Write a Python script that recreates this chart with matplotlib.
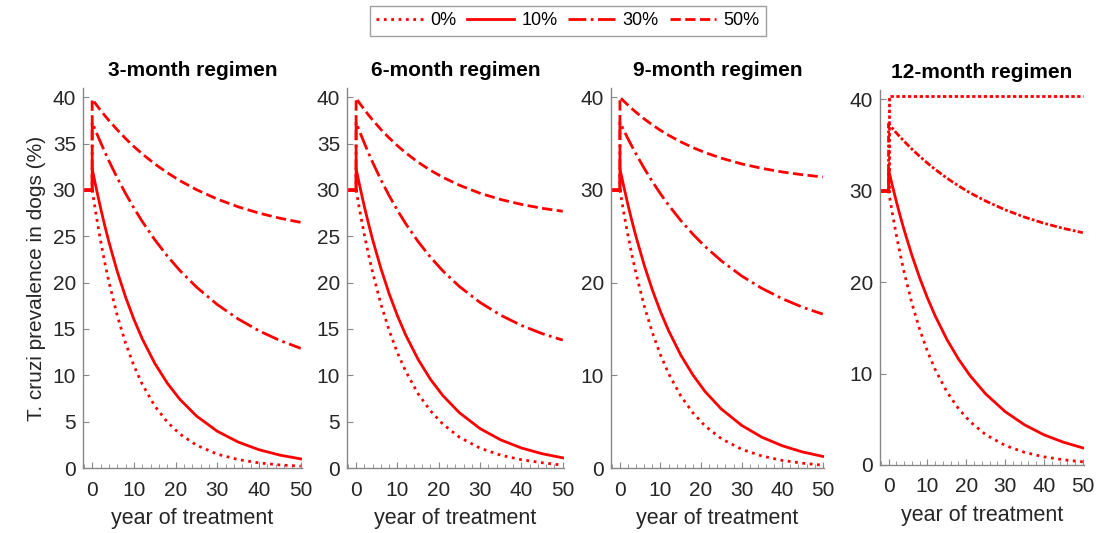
import matplotlib.pyplot as plt
from matplotlib.ticker import MultipleLocator

plt.rcParams['font.family'] = ['Liberation Sans', 'DejaVu Sans']

# years after start of treatment, values in %
years = [0, 1, 2, 3, 4, 6, 8, 10, 12, 15, 18, 21, 25, 30, 35, 40, 45, 50]
pre_years = [-2.2, 0]
baseline = 30.0

coverage_labels = ['0%', '10%', '30%', '50%']
regimens = ['3-month regimen', '6-month regimen', '9-month regimen', '12-month regimen']

# 3-month regimen
m3_cov0 = [30.0, 27.15, 24.56, 22.22, 20.11, 16.46, 13.48, 11.04, 9.04, 6.69, 4.96, 3.67, 2.46, 1.49, 0.91, 0.55, 0.33, 0.20]
m3_cov10 = [32.3, 30.12, 28.08, 26.18, 24.41, 21.22, 18.45, 16.04, 13.94, 11.30, 9.16, 7.42, 5.61, 3.96, 2.80, 1.97, 1.39, 0.98]
m3_cov30 = [37.3, 36.20, 35.15, 34.13, 33.15, 31.31, 29.62, 28.05, 26.60, 24.63, 22.88, 21.32, 19.52, 17.63, 16.08, 14.80, 13.76, 12.91]
m3_cov50 = [39.8, 39.19, 38.60, 38.04, 37.50, 36.49, 35.55, 34.68, 33.89, 32.81, 31.86, 31.01, 30.03, 29.01, 28.18, 27.50, 26.95, 26.50]

# 6-month regimen
m6_cov0 = [30.0, 27.47, 25.16, 23.04, 21.10, 17.69, 14.84, 12.44, 10.44, 8.01, 6.16, 4.73, 3.32, 2.14, 1.38, 0.89, 0.57, 0.30]
m6_cov10 = [32.3, 30.19, 28.21, 26.37, 24.64, 21.53, 18.80, 16.43, 14.35, 11.72, 9.56, 7.81, 5.96, 4.25, 3.03, 2.16, 1.54, 1.10]
m6_cov30 = [37.3, 36.15, 35.05, 33.99, 32.98, 31.10, 29.38, 27.80, 26.36, 24.43, 22.74, 21.26, 19.58, 17.86, 16.48, 15.38, 14.50, 13.80]
m6_cov50 = [39.9, 39.27, 38.67, 38.09, 37.55, 36.53, 35.61, 34.77, 34.01, 32.99, 32.12, 31.36, 30.51, 29.64, 28.97, 28.44, 28.02, 27.70]

# 9-month regimen
m9_cov0 = [30.0, 27.42, 25.06, 22.90, 20.93, 17.48, 14.60, 12.20, 10.19, 7.78, 5.94, 4.53, 3.16, 2.02, 1.29, 0.82, 0.52, 0.30]
m9_cov10 = [32.3, 30.27, 28.36, 26.58, 24.91, 21.87, 19.20, 16.86, 14.81, 12.18, 10.03, 8.24, 6.36, 4.60, 3.32, 2.40, 1.73, 1.25]
m9_cov30 = [37.3, 36.39, 35.51, 34.67, 33.86, 32.32, 30.90, 29.58, 28.36, 26.70, 25.22, 23.89, 22.35, 20.72, 19.38, 18.27, 17.35, 16.60]
m9_cov50 = [40.0, 39.56, 39.15, 38.75, 38.37, 37.66, 37.02, 36.43, 35.90, 35.19, 34.57, 34.03, 33.43, 32.81, 32.33, 31.94, 31.64, 31.40]

# 12-month regimen
m12_cov0 = [30.0, 27.47, 25.16, 23.04, 21.10, 17.69, 14.84, 12.44, 10.44, 8.01, 6.16, 4.73, 3.32, 2.14, 1.38, 0.89, 0.57, 0.35]
m12_cov10 = [32.3, 30.51, 28.82, 27.22, 25.71, 22.94, 20.47, 18.27, 16.30, 13.74, 11.58, 9.76, 7.77, 5.84, 4.39, 3.30, 2.49, 1.87]
m12_cov30 = [37.3, 36.80, 36.31, 35.85, 35.40, 34.54, 33.75, 33.01, 32.32, 31.37, 30.52, 29.75, 28.86, 27.90, 27.10, 26.43, 25.87, 25.40]
m12_cov50 = [40.3, 40.3, 40.3, 40.3, 40.3, 40.3, 40.3, 40.3, 40.3, 40.3, 40.3, 40.3, 40.3, 40.3, 40.3, 40.3, 40.3, 40.3]

panels = [
    [m3_cov0, m3_cov10, m3_cov30, m3_cov50],
    [m6_cov0, m6_cov10, m6_cov30, m6_cov50],
    [m9_cov0, m9_cov10, m9_cov30, m9_cov50],
    [m12_cov0, m12_cov10, m12_cov30, m12_cov50],
]
yticks_step = [5, 5, 10, 10]

styles = [':', '-', '-.', '--']
# last panel lines look ragged in the original
styles_12 = [':', '-', (0, (2.5, 0.8, 1, 0.8)), (0, (1.2, 0.9))]

W, H = 1107, 533
# (left, right, top, bottom) in pixels
boxes = [(83, 302, 88, 468), (347, 564, 88, 468), (611, 824, 88, 468), (880, 1084, 90, 465)]

fig = plt.figure(figsize=(W / 100, H / 100), dpi=100)
axes = []
for i, (l, r, t, b) in enumerate(boxes):
    ax = fig.add_axes([l / W, 1 - b / H, (r - l) / W, (b - t) / H])
    axes.append(ax)
    ls_list = styles_12 if i == 3 else styles
    for series, ls, lab in zip(panels[i], ls_list, coverage_labels):
        if ls == ':':
            x, y = years, series
        else:
            x = pre_years + years
            y = [baseline, baseline] + series
        ax.plot(x, y, color='red', lw=2, linestyle=ls, label=lab)
    # flat pre-treatment line
    ax.plot(pre_years, [baseline, baseline], color='red', lw=2)

    ax.set_xlim(-2.2, 50.3)
    ax.set_ylim(0, 41)
    ax.xaxis.set_major_locator(MultipleLocator(10))
    ax.xaxis.set_minor_locator(MultipleLocator(2))
    ax.yaxis.set_major_locator(MultipleLocator(yticks_step[i]))
    for s in ['top', 'right']:
        ax.spines[s].set_visible(False)
    for s in ['left', 'bottom']:
        ax.spines[s].set_color('#888888')
        ax.spines[s].set_linewidth(1.0)
    ax.tick_params(axis='x', which='major', direction='in', length=4, color='#888888',
                   labelsize=15, labelcolor='#262626', pad=9)
    ax.tick_params(axis='x', which='minor', direction='in', length=3, color='#888888')
    ax.tick_params(axis='y', which='major', direction='in', length=4, color='#888888',
                   labelsize=15, labelcolor='#262626', pad=5)
    ax.set_xlabel('year of treatment', fontsize=15.5, color='#262626', labelpad=6)
    ax.set_title(regimens[i], fontsize=15, fontweight='bold', pad=9)

axes[0].set_ylabel('T. cruzi prevalence in dogs (%)', fontsize=15, color='#262626', labelpad=5)

handles, labels = axes[0].get_legend_handles_labels()
leg = fig.legend(handles[:4], labels[:4], loc='upper center', bbox_to_anchor=(568 / W, 1 - 6 / H),
                 ncol=4, fontsize=13, frameon=True, fancybox=False, edgecolor='#888888',
                 handlelength=2.6, handletextpad=0.4, columnspacing=0.6,
                 borderpad=0.35, borderaxespad=0)
leg.get_frame().set_linewidth(1.0)

fig.savefig('out.png', dpi=100)
